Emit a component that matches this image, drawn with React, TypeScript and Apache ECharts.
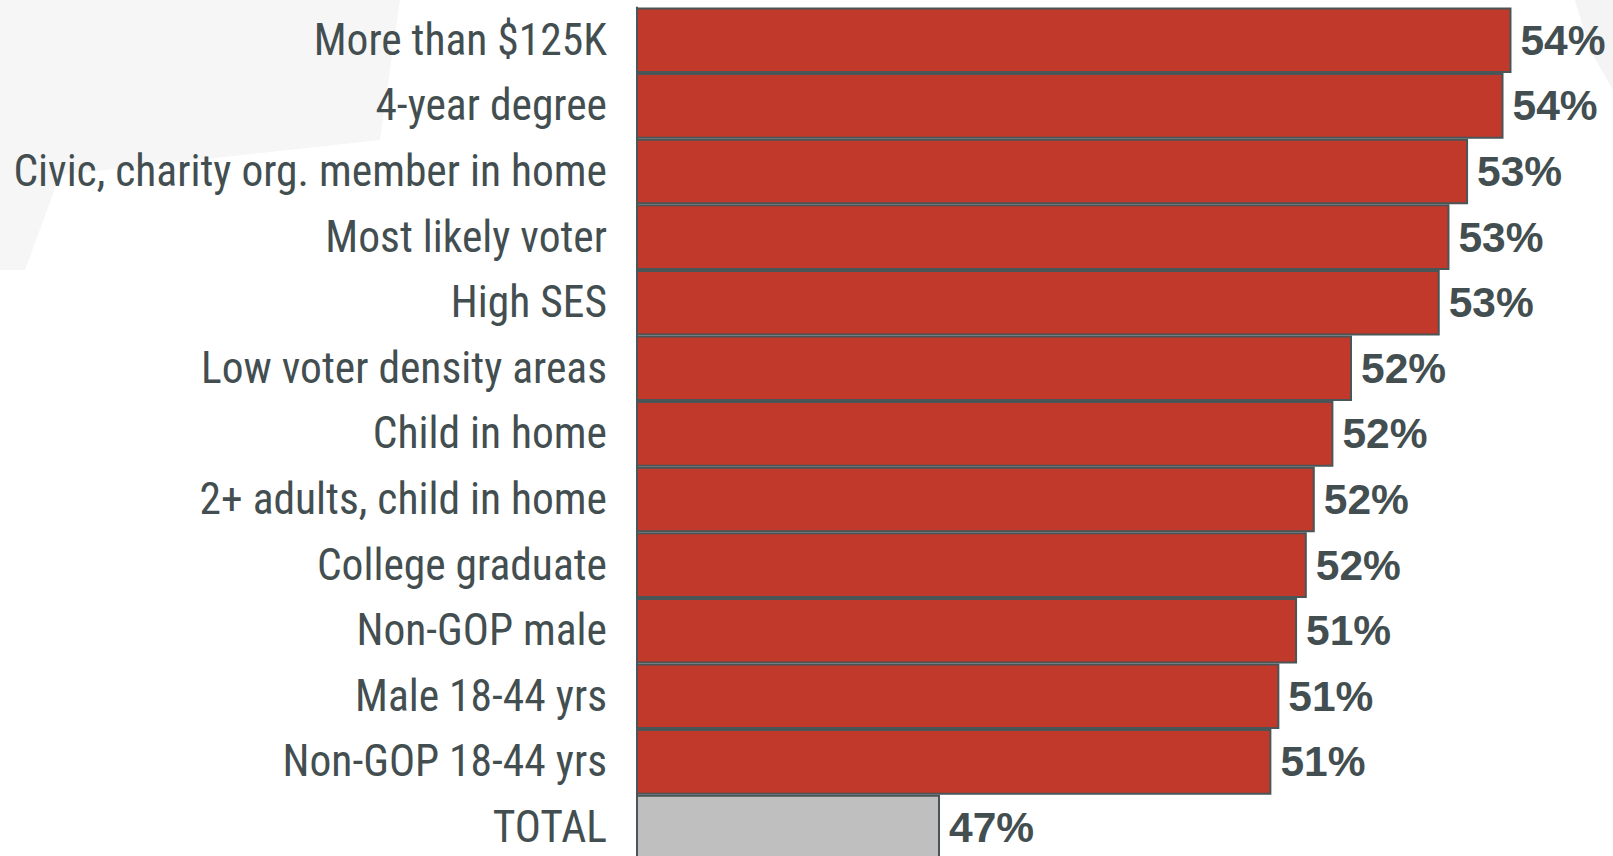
import React, { useEffect, useRef } from "react";
import * as echarts from "echarts";

const categories = [
  "More than $125K",
  "4-year degree",
  "Civic, charity org. member in home",
  "Most likely voter",
  "High SES",
  "Low voter density areas",
  "Child in home",
  "2+ adults, child in home",
  "College graduate",
  "Non-GOP male",
  "Male 18-44 yrs",
  "Non-GOP 18-44 yrs",
  "TOTAL",
];

const values = [53.87, 53.78, 53.38, 53.17, 53.06, 52.07, 51.86, 51.65, 51.56, 51.45, 51.25, 51.16, 47.42];

const highlightColor = "#C0392B";
const totalColor = "#BFBFBF";
const textColor = "#434E50";
const borderColor = "#4A5557";

export default function App() {
  const ref = useRef<HTMLDivElement>(null);

  useEffect(() => {
    if (!ref.current) return;
    const chart = echarts.init(ref.current, null, { renderer: "svg" });
    const data = values.map((v, i) => ({
      value: v,
      itemStyle: { color: categories[i] === "TOTAL" ? totalColor : highlightColor },
    }));
    chart.setOption({
      animation: false,
      backgroundColor: "#ffffff",
      graphic: [
        {
          type: "polygon",
          z: -10,
          shape: { points: [[0, 0], [400, 0], [380, 140], [60, 175], [25, 270], [0, 270]] },
          style: { fill: "#f6f6f6" },
          silent: true,
        },
        {
          type: "polygon",
          z: -10,
          shape: { points: [[1575, 0], [1613, 0], [1613, 90], [1590, 50]] },
          style: { fill: "#f4f4f4" },
          silent: true,
        },
      ],
      grid: {
        left: 637,
        top: 7.5,
        right: 90,
        bottom: 9.7,
        containLabel: false,
        outerBoundsMode: "none",
      },
      xAxis: {
        type: "value",
        min: 44,
        max: 54,
        show: false,
      },
      yAxis: {
        type: "category",
        data: categories,
        inverse: true,
        axisLine: { show: true, lineStyle: { color: borderColor, width: 2 } },
        axisTick: { show: false },
        splitLine: { show: false },
        axisLabel: {
          color: textColor,
          fontSize: 43.5,
          margin: 30,
          fontFamily: "'Roboto Condensed', 'Liberation Sans', sans-serif",
        },
      },
      series: [
        {
          type: "bar",
          data,
          barCategoryGap: 0,
          itemStyle: { borderColor: borderColor, borderWidth: 2 },
          label: {
            show: true,
            position: "right",
            distance: 9,
            color: textColor,
            fontSize: 42.5,
            fontWeight: "bold",
            fontFamily: "'Liberation Sans', Arial, sans-serif",
            formatter: (p: any) => Math.round(p.value) + "%",
          },
        },
      ],
    });
    return () => chart.dispose();
  }, []);

  return (
    <div
      ref={ref}
      style={{ position: "fixed", left: 0, top: 0, width: 1613, height: 870 }}
    />
  );
}
